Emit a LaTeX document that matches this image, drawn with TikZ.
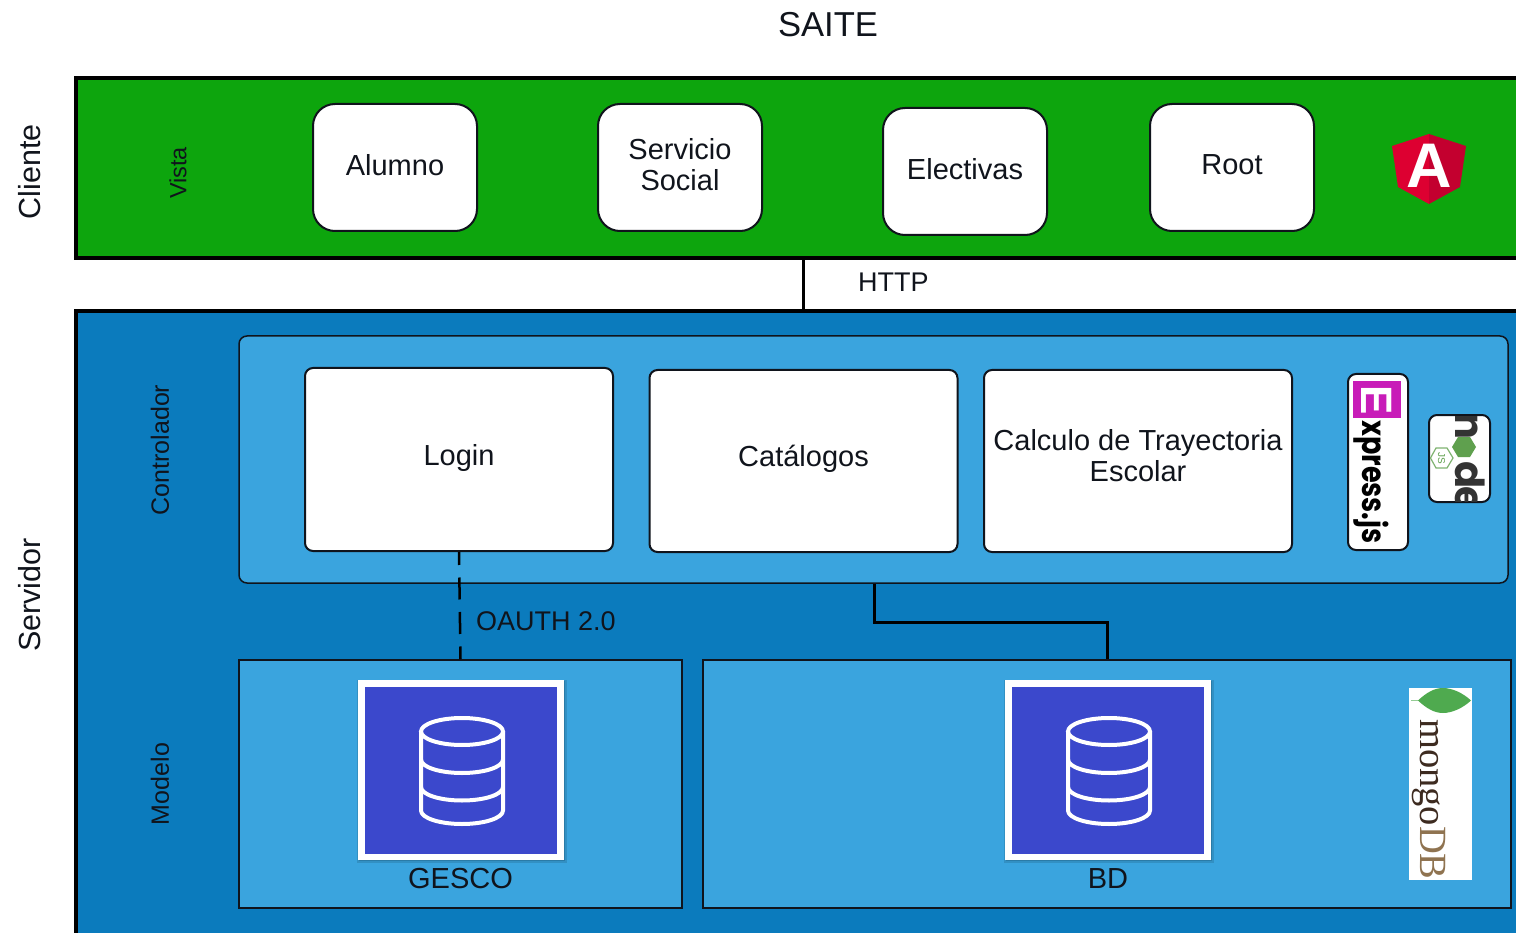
\documentclass[tikz,border=0pt]{standalone}
\usepackage{fontspec}
\usepackage{graphicx}
\setmainfont{Liberation Sans}
\newfontfamily\popfont{Poppins}
\newfontfamily\timesfont{Liberation Serif}
\usetikzlibrary{calc}
\definecolor{bandgreen}{HTML}{0DA50D}
\definecolor{serverblue}{HTML}{0B7BBD}
\definecolor{panelblue}{HTML}{3AA4DE}
\definecolor{dbblue}{HTML}{3B48CC}
\definecolor{inkdark}{HTML}{10141C}
\definecolor{angA}{HTML}{DD0031}
\definecolor{angB}{HTML}{C3002F}
\definecolor{expmag}{HTML}{C81CB8}
\definecolor{leafgreen}{HTML}{4FAA4F}
\definecolor{mongoDark}{HTML}{3D2B20}
\definecolor{mongoBrown}{HTML}{8F7350}
\definecolor{nodeDark}{HTML}{333333}
\definecolor{nodeGreen}{HTML}{5FA04E}
\tikzset{
  txt/.style={text=inkdark,inner sep=0pt,align=center},
  t29/.style={txt,font=\fontsize{29}{31}\selectfont},
  t27/.style={txt,font=\fontsize{27}{29}\selectfont},
  t25/.style={txt,font=\fontsize{25}{27}\selectfont},
  t30/.style={txt,font=\fontsize{30.5}{32}\selectfont},
  band/.style={draw=black,line width=4pt,inner sep=0pt},
  panel/.style={draw=inkdark,line width=1.5pt,fill=panelblue,inner sep=0pt},
  whitebox/.style={draw=inkdark,line width=2pt,fill=white,rounded corners=22pt,inner sep=0pt,minimum width=164pt,minimum height=127pt,t29},
  ctrlbox/.style={draw=inkdark,line width=2pt,fill=white,rounded corners=8pt,inner sep=0pt,minimum width=308pt,minimum height=183pt,t29},
  wire/.style={draw=black,line width=3pt},
  dbframe/.style={fill=white,inner sep=0pt,minimum width=206pt,minimum height=180pt},
  dbinner/.style={fill=dbblue,inner sep=0pt,minimum width=192pt,minimum height=167pt},
  cyl/.style={draw=white,line width=4pt},
  logobox/.style={draw=inkdark,line width=2pt,fill=white,rounded corners=8pt,inner sep=0pt},
  nodeglyph/.style={inner sep=0pt,text=nodeDark,rotate=-90,anchor=base west,font=\fontsize{40}{42}\popfont\bfseries},
}
\begin{document}
\begin{tikzpicture}[x=1pt,y=-1pt]
\useasboundingbox (0,0) rectangle (1516,933);
\clip (0,0) rectangle (1516,933);
\fill[white] (0,0) rectangle (1516,933);

\node[txt,font=\fontsize{34.6}{36}\selectfont] (saite) at (828,25) {SAITE};

% bands
\node[band,fill=bandgreen,minimum width=1484pt,minimum height=180pt] (clienteband) at (818,168) {};
\node[band,fill=serverblue,minimum width=1484pt,minimum height=660pt] (servidorband) at (818,641) {};
\coordinate (httpc) at (803,285);
\draw[wire] (clienteband.south -| httpc) -- (servidorband.north -| httpc);
\node[t27,anchor=west] (http) at (858,282) {HTTP};

\node[t30,rotate=90] (cliente) at (30,172) {Cliente};
\node[t30,rotate=90] (servidor) at (30,595) {Servidor};
\node[txt,font=\fontsize{23.5}{25}\selectfont,rotate=90] (vista) at (178,173) {Vista};
\node[t25,rotate=90] (controlador) at (160,450) {Controlador};
\node[t25,rotate=90] (modelo) at (160,784) {Modelo};

% client boxes
\node[whitebox,text depth=6pt] (alumno) at (395,167.5) {Alumno};
\node[whitebox,text depth=6pt] (servicio) at (680,167.5) {Servicio\\Social};
\node[whitebox,text depth=6pt] (electivas) at (965,171.5) {Electivas};
\node[whitebox,text depth=6pt] (root) at (1232,167.5) {Root};

% angular
\fill[angA] (1429,134) -- (1392,146) -- (1398,187) -- (1429,204) -- cycle;
\fill[angB] (1429,134) -- (1466,146) -- (1460,187) -- (1429,204) -- cycle;
\node[inner sep=0pt,text=white,font=\fontsize{63}{65}\selectfont\bfseries] (angularA) at (1429,165.5) {A};

% panels
\node[panel,rounded corners=8pt,minimum width=1269pt,minimum height=247pt] (ctrlpanel) at (873.5,459.5) {};
\node[panel,minimum width=443pt,minimum height=248pt] (gescopanel) at (460.5,784) {};
\node[panel,minimum width=808pt,minimum height=248pt] (bdpanel) at (1107,784) {};

\node[ctrlbox,text depth=10pt] (login) at (459,459.5) {Login};
\node[ctrlbox,minimum height=182pt,text depth=10pt] (catalogos) at (803.5,461) {Catálogos};
\node[ctrlbox,minimum height=182pt,text depth=12pt] (calculo) at (1138,461) {Calculo de Trayectoria\\Escolar};

% connectors
\draw[wire,line width=2.5pt,dash pattern=on 22pt off 12.5pt,dash phase=9pt] (login.south) -- (gescopanel.north);
\node[t27,anchor=west] (oauth) at (476,621) {OAUTH 2.0};
\coordinate (busa) at (874,622);
\draw[wire] (ctrlpanel.south -| busa) -- (busa) -| (bdpanel.north);

% express logo
\node[logobox,minimum width=60pt,minimum height=176pt] (expressbox) at (1378,462) {};
\fill[expmag] (1353,381) rectangle (1401,418);
\node[inner sep=0pt,text=white,rotate=-90,font=\fontsize{44}{46}\selectfont\bfseries] (expressE) at (1377,400) {E};
\node[inner sep=0pt,text=black,rotate=-90,anchor=base west,font=\fontsize{33}{35}\popfont\bfseries] (expressT) at (1362,420) {\scalebox{0.82}[1]{xpress.js}};

% node logo
\node[logobox,minimum width=61pt,minimum height=87pt] (nodebox) at (1459.5,458.5) {};
\begin{scope}
\clip[rounded corners=7pt] (1430,416) rectangle (1489,501);
\node[nodeglyph] (nodeN) at (1455,412) {n};
\node[nodeglyph] (nodeD) at (1455,461) {d};
\node[nodeglyph] (nodeE) at (1455,486) {e};
\end{scope}
\fill[nodeGreen] (1476,447) -- (1470,437) -- (1458,437) -- (1452,447) -- (1458,457) -- (1470,457) -- cycle;
\draw[nodeGreen!80!white,line width=1.2pt] (1453,458) -- (1447,448) -- (1436,448) -- (1430.5,458) -- (1436,468) -- (1447,468) -- cycle;
\node[inner sep=0pt,text=nodeGreen,rotate=-90,font=\fontsize{10}{11}\selectfont] (nodeJS) at (1441.5,458) {JS};

% db icons
\foreach \cx/\nm in {461/gesco,1108/bd}{
  \fill[black,opacity=.12] (\cx-104,680) rectangle (\cx+106,863);
  \fill[black,opacity=.14] (\cx-102,681) rectangle (\cx+104,861);
  \node[dbframe] (\nm frame) at (\cx,770) {};
  \node[dbinner] (\nm inner) at (\cx,770.5) {};
  \begin{scope}[shift={(\cx+1,0)}]
    \draw[cyl] (0,731.5) ellipse (41 and 13.5);
    \draw[cyl,line join=round] (-41,731.5) -- (-41,810.5) .. controls (-41,818) and (-22.6,824) .. (0,824) .. controls (22.6,824) and (41,818) .. (41,810.5) -- (41,731.5);
    \draw[cyl] (-41,759.5) .. controls (-41,767) and (-22.6,773) .. (0,773) .. controls (22.6,773) and (41,767) .. (41,759.5);
    \draw[cyl] (-41,787) .. controls (-41,794.5) and (-22.6,800.5) .. (0,800.5) .. controls (22.6,800.5) and (41,794.5) .. (41,787);
  \end{scope}
}
\node[t29] (gesco) at (460.5,879) {GESCO};
\node[t29] (bd) at (1108,879) {BD};

% mongo logo
\fill[white] (1409,688) rectangle (1472,880);
\draw[leafgreen!60!white,line width=1pt] (1411,700.5) -- (1420,700.5);
\fill[leafgreen] (1418,700.5) .. controls (1426,693) and (1434,688) .. (1443,688) .. controls (1452,688) and (1463,693) .. (1471,700.5) .. controls (1463,708) and (1452,713) .. (1443,713) .. controls (1434,713) and (1426,708) .. (1418,700.5) -- cycle;
\node[inner sep=0pt,rotate=-90,anchor=base west,font=\fontsize{38.5}{42}\timesfont] (mongotext) at (1420,719) {\textcolor{mongoDark}{mongo}\textcolor{mongoBrown}{DB}};
\end{tikzpicture}
\end{document}
